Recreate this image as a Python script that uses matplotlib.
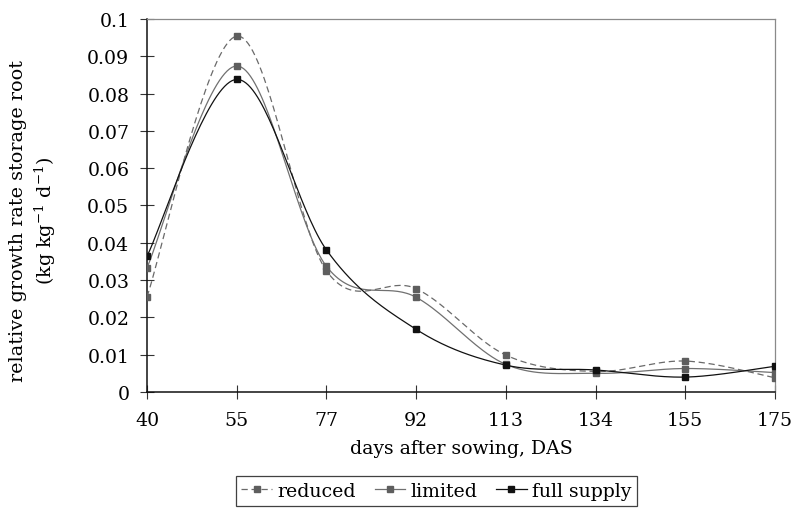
import numpy as np
import matplotlib
matplotlib.use("Agg")
import matplotlib.pyplot as plt
from matplotlib.lines import Line2D

plt.rcParams['font.family'] = ['DejaVu Serif']
plt.rcParams['mathtext.fontset'] = 'dejavuserif'

days = ["40", "55", "77", "92", "113", "134", "155", "175"]
reduced = [0.0255, 0.0954, 0.0325, 0.0277, 0.0099, 0.0055, 0.0083, 0.0038]
limited = [0.0333, 0.0874, 0.0337, 0.0254, 0.0074, 0.0050, 0.0063, 0.0052]
full_supply = [0.0364, 0.0838, 0.0381, 0.0168, 0.0072, 0.0059, 0.0040, 0.0069]
yticks = [0, 0.01, 0.02, 0.03, 0.04, 0.05, 0.06, 0.07, 0.08, 0.09, 0.1]
ytick_labels = ["0", "0.01", "0.02", "0.03", "0.04", "0.05", "0.06", "0.07", "0.08", "0.09", "0.1"]


def smooth(xs, ys, n=40):
    # Catmull-Rom style cubic Bezier smoothing (like spreadsheet "smoothed line")
    xs = np.asarray(xs, float)
    ys = np.asarray(ys, float)
    P = np.column_stack([xs, ys])
    out = []
    m = len(P)
    for i in range(m - 1):
        p0 = P[i - 1] if i > 0 else P[i]
        p1 = P[i]
        p2 = P[i + 1]
        p3 = P[i + 2] if i + 2 < m else P[i + 1]
        c1 = p1 + (p2 - p0) / 6.0
        c2 = p2 - (p3 - p1) / 6.0
        t = np.linspace(0, 1, n)[:, None]
        seg = ((1 - t) ** 3) * p1 + 3 * ((1 - t) ** 2) * t * c1 + 3 * (1 - t) * t ** 2 * c2 + t ** 3 * p2
        if i > 0:
            seg = seg[1:]
        out.append(seg)
    out = np.vstack(out)
    return out[:, 0], out[:, 1]


fig = plt.figure(figsize=(7.98, 5.10), dpi=100)
ax = fig.add_axes([0.1842, 0.2294, 0.7870, 0.7314])

x = np.arange(len(days))
series = [
    ("reduced", reduced, "#6a6a6a", "#5e5e5e", (0, (5, 3))),
    ("limited", limited, "#707070", "#5e5e5e", "-"),
    ("full supply", full_supply, "#111111", "#111111", "-"),
]
handles = []
for name, vals, lc, mc, ls in series:
    sx, sy = smooth(x, vals)
    ax.plot(sx, sy, color=lc, lw=0.9, ls=ls, zorder=3)
    ax.plot(x, vals, ls="none", marker="s", ms=5, color=mc, zorder=4)
    handles.append(Line2D([0], [0], color=lc, lw=0.9, ls=ls, marker="s", ms=4,
                          markerfacecolor=mc, markeredgecolor=mc))

ax.set_xlim(0, len(days) - 1)
ax.set_ylim(0, 0.1)
ax.set_xticks(x)
ax.set_xticklabels(days)
ax.set_yticks(yticks)
ax.set_yticklabels(ytick_labels)

ax.tick_params(axis="both", direction="inout", length=9.5, width=0.8, color="#333333",
               labelsize=13.6, pad=8)
ax.tick_params(axis="x", pad=9)

for s in ["left", "bottom"]:
    ax.spines[s].set_color("#111111")
    ax.spines[s].set_linewidth(1.1)
for s in ["top", "right"]:
    ax.spines[s].set_color("#8a8a8a")
    ax.spines[s].set_linewidth(0.9)

ax.set_xlabel("days after sowing, DAS", fontsize=13.6, labelpad=7)
fig.text(0.022, 0.567, "relative growth rate storage root", rotation=90,
         fontsize=13.8, ha="center", va="center")
fig.text(0.057, 0.567, r"(kg kg$^{-1}$ d$^{-1}$)", rotation=90,
         fontsize=13.8, ha="center", va="center")

leg = fig.legend(handles, [s[0] for s in series], loc="upper center",
                 bbox_to_anchor=(0.547, 0.064), ncol=3, fontsize=13.6,
                 frameon=True, fancybox=False, handlelength=1.6,
                 handletextpad=0.3, columnspacing=1.0, borderpad=0.3,
                 borderaxespad=0)
leg.get_frame().set_edgecolor("#111111")
leg.get_frame().set_linewidth(0.9)

fig.savefig("out.png", dpi=100)
